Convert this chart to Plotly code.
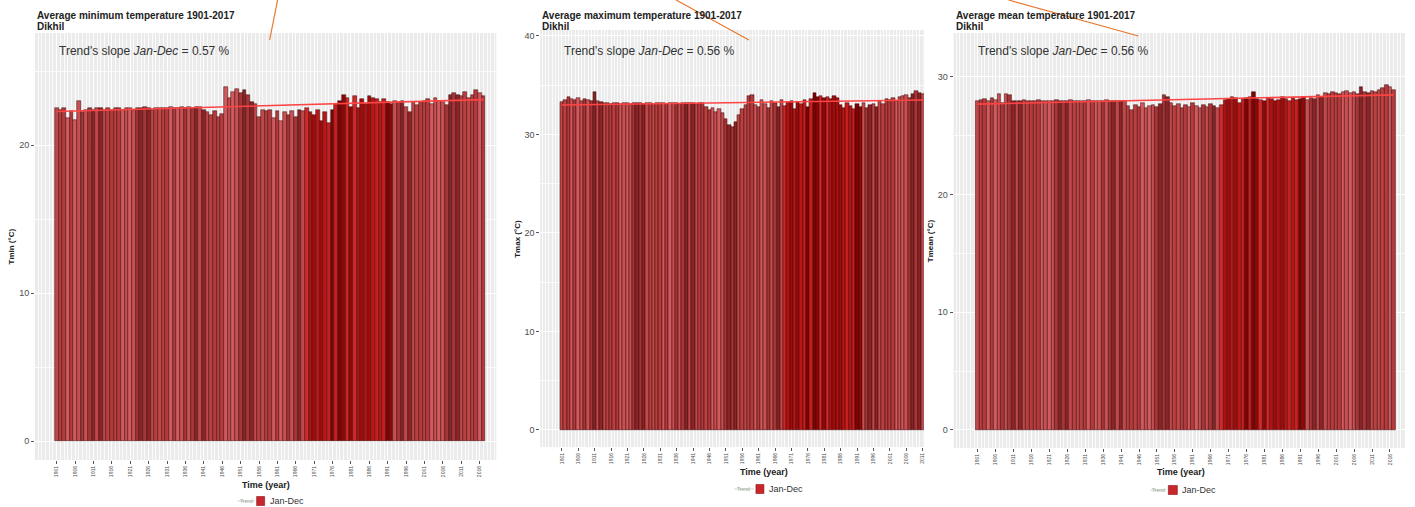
import plotly.graph_objects as go
import numpy as np

years = list(range(1901, 2018))
tick_years = list(range(1901, 2018, 5))

tmin = [
    22.5, 22.4, 22.5, 21.8, 22.3, 21.7, 23.0, 22.2, 22.4, 22.5,
    22.4, 22.5, 22.5, 22.4, 22.5, 22.4, 22.5, 22.5, 22.4, 22.5,
    22.5, 22.4, 22.5, 22.5, 22.6, 22.5, 22.4, 22.5, 22.5, 22.5,
    22.5, 22.6, 22.5, 22.5, 22.6, 22.5, 22.6, 22.5, 22.6, 22.6,
    22.4, 22.2, 22.0, 22.3, 21.9, 22.1, 23.9, 23.2, 23.6, 23.8,
    23.5, 23.7, 23.4, 22.9, 22.8, 21.9, 22.4, 22.3, 22.4, 21.8,
    22.3, 21.6, 22.2, 22.0, 22.3, 21.9, 22.4, 22.3, 22.5, 22.2,
    22.0, 22.4, 21.6, 22.2, 21.5, 22.4, 22.8, 23.0, 23.4, 23.2,
    22.6, 23.3, 22.5, 23.1, 22.8, 23.3, 23.2, 23.1, 22.9, 23.1,
    22.9, 22.8, 23.0, 22.9, 23.0, 22.6, 22.2, 22.9, 22.7, 22.9,
    23.0, 23.1, 22.8, 23.2, 23.0, 22.9, 22.7, 23.4, 23.5, 23.4,
    23.3, 23.6, 23.2, 23.4, 23.7, 23.5, 23.3]

tmax = [
    33.3, 33.5, 33.8, 33.6, 33.5, 33.7, 33.4, 33.6, 33.5, 33.4,
    34.3, 33.4, 33.3, 33.2, 33.2, 33.1, 33.2, 33.2, 33.1, 33.2,
    33.2, 33.1, 33.2, 33.2, 33.2, 33.1, 33.2, 33.2, 33.1, 33.2,
    33.2, 33.2, 33.1, 33.2, 33.2, 33.2, 33.1, 33.2, 33.2, 33.2,
    33.2, 33.1, 33.2, 33.2, 32.8, 32.5, 32.7, 32.3, 32.6, 32.2,
    31.6, 31.0, 30.8, 31.3, 32.0, 32.6, 33.0, 33.9, 34.0, 33.0,
    32.8, 33.5, 33.1, 32.7, 33.4, 33.2, 32.8, 33.5, 32.9, 33.3,
    33.4, 32.6, 33.3, 33.1, 33.5, 32.8, 33.6, 34.2, 33.8, 33.9,
    33.7, 33.8, 33.6, 33.9, 33.7, 33.0, 32.7, 33.2, 32.9, 32.6,
    33.1, 32.8, 33.2, 32.7, 33.0, 33.1, 32.8, 33.4, 33.1, 33.6,
    33.5, 33.7, 33.4, 33.8, 33.9, 34.0, 33.7, 34.1, 34.4, 34.2,
    34.1, 34.3, 34.0, 34.2, 34.4, 34.1, 34.3]

tmean = [
    27.9, 28.0, 28.1, 27.9, 28.2, 28.0, 28.5, 27.8, 28.5, 28.4,
    27.9, 27.9, 27.9, 28.0, 27.9, 27.9, 27.9, 28.0, 27.9, 27.9,
    27.9, 27.9, 28.0, 27.9, 27.9, 27.9, 28.0, 27.9, 27.9, 27.9,
    27.9, 28.0, 27.9, 27.9, 27.9, 27.9, 28.0, 27.9, 27.9, 27.9,
    27.9, 27.9, 27.5, 27.2, 27.6, 27.4, 27.8, 27.3, 27.5, 27.6,
    27.4, 27.7, 28.4, 28.3, 27.8, 27.5, 27.7, 27.3, 27.6, 27.4,
    27.8, 27.5, 27.3, 27.6, 27.4, 27.7, 27.5, 27.3, 27.6, 28.0,
    28.1, 28.3, 28.2, 27.8, 28.1, 28.2, 28.3, 28.7, 28.1, 28.0,
    27.9, 28.2, 28.1, 27.9, 28.0, 28.3, 28.1, 27.9, 28.2, 28.0,
    28.1, 28.3, 28.0, 28.2, 28.1, 28.4, 28.3, 28.6, 28.5, 28.7,
    28.6, 28.5, 28.7, 28.8, 28.6, 28.7, 28.5, 29.1, 28.7, 28.6,
    28.8, 28.7, 28.9, 29.0, 29.3, 29.1, 28.9]

titles = ["Average minimum temperature 1901-2017",
          "Average maximum temperature 1901-2017",
          "Average mean temperature 1901-2017"]
station = "Dikhil"
ylabels = ["Tmin (°C)", "Tmax (°C)", "Tmean (°C)"]
slopes = ["0.57", "0.56", "0.56"]
series_name = "Jan-Dec"

assert len(tmin) == len(tmax) == len(tmean) == len(years) == 117

W, H = 1415, 507
FONT = "Liberation Sans, Arial, sans-serif"

# ---- styling (bar shading) ----
light = ["#C0484B", "#A63538", "#D05A5D", "#B8403F", "#8A2427", "#C85052", "#B53A3D"]
dark = ["#B01212", "#8E0808", "#C81E1E", "#A00C0C", "#D42828", "#7E0404", "#BA1818"]
bar_colors = []
for i, y in enumerate(years):
    pal = dark if 1969 <= y <= 1992 else light
    bar_colors.append(pal[(i * 3 + i // 4) % 7])

# ---- panel geometry (pixels) ----
panels = [
    dict(x0=35, x1=497, y0=33, y1=460, xr=[1895.1, 2020.5], yr=[-1.28, 27.57], yt=[0, 10, 20],
         xt=266, yt_title=485, leg=(238, 255, 257, 265, 268, 501)),
    dict(x0=541, x1=925, y0=30, y1=447, xr=[1894.4, 2011.3], yr=[-1.73, 40.6], yt=[0, 10, 20, 30, 40],
         xt=765, yt_title=472, leg=(735, 755, 757, 765, 768, 489)),
    dict(x0=955, x1=1407, y0=33, y1=448, xr=[1894.3, 2020.2], yr=[-1.53, 33.7], yt=[0, 10, 20, 30],
         xt=1183, yt_title=472, leg=(1152, 1168, 1170, 1179, 1182, 490)),
]
series = [tmin, tmax, tmean]

fig = go.Figure()
annotations = []
shapes = []
layout_axes = {}

for k, (p, vals) in enumerate(zip(panels, series)):
    sfx = "" if k == 0 else str(k + 1)
    xa, ya = "x" + sfx, "y" + sfx
    fig.add_trace(go.Bar(
        x=years, y=vals, xaxis=xa, yaxis=ya, name=series_name,
        marker=dict(color=bar_colors, line=dict(color="#3A0808", width=0.5)),
        width=1.0, showlegend=False))
    coef = np.polyfit(years, vals, 1)
    trend = np.polyval(coef, years)
    fig.add_trace(go.Scatter(
        x=years, y=trend, xaxis=xa, yaxis=ya, mode="lines", name="Trend",
        line=dict(color="#FF4444", width=1.6), showlegend=False))

    dx = [p["x0"] / W, p["x1"] / W]
    dy = [1 - p["y1"] / H, 1 - p["y0"] / H]
    layout_axes["xaxis" + sfx] = dict(
        domain=dx, range=p["xr"], anchor=ya, tickvals=tick_years,
        ticktext=[str(t) for t in tick_years], tickangle=-90,
        tickfont=dict(size=5, color="#4D4D4D", family=FONT),
        ticks="outside", ticklen=3, tickcolor="#555", showgrid=True,
        gridcolor="white", gridwidth=1, zeroline=False, showline=False,
        minor=dict(dtick=1, tick0=1901, showgrid=True, gridcolor="rgba(255,255,255,0.8)", gridwidth=0.5),
        fixedrange=True)
    layout_axes["yaxis" + sfx] = dict(
        domain=dy, range=p["yr"], anchor=xa, tickvals=p["yt"],
        tickfont=dict(size=9, color="#4D4D4D", family=FONT),
        ticks="outside", ticklen=3, tickcolor="#555", showgrid=True,
        gridcolor="white", gridwidth=1.2, zeroline=False, showline=False,
        minor=dict(dtick=5, showgrid=True, gridcolor="rgba(255,255,255,0.8)", gridwidth=0.6),
        fixedrange=True)
    # background panel
    shapes.append(dict(type="rect", xref="paper", yref="paper", x0=dx[0], x1=dx[1],
                       y0=dy[0], y1=dy[1], fillcolor="#EBEBEB", line=dict(width=0), layer="below"))
    # titles
    annotations.append(dict(text="<b>" + titles[k] + "</b>", x=p["x0"] / W, y=1 - 15 / H,
                            xref="paper", yref="paper", xanchor="left", yanchor="middle",
                            showarrow=False, font=dict(size=10, color="#222", family=FONT)))
    annotations.append(dict(text="<b>" + station + "</b>", x=p["x0"] / W, y=1 - 26.5 / H,
                            xref="paper", yref="paper", xanchor="left", yanchor="middle",
                            showarrow=False, font=dict(size=10, color="#222", family=FONT)))
    # slope text
    annotations.append(dict(text="Trend's slope <i>" + series_name + "</i> = " + slopes[k] + " %",
                            x=(p["x0"] + 22) / W, y=1 - 51 / H, xref="paper", yref="paper",
                            xanchor="left", yanchor="middle", showarrow=False,
                            font=dict(size=12, color="#333", family=FONT)))
    # y-axis title
    annotations.append(dict(text="<b>" + ylabels[k] + "</b>", x=(p["x0"] - 23) / W,
                            y=1 - (p["y0"] + p["y1"]) / 2 / H, xref="paper", yref="paper",
                            xanchor="center", yanchor="middle", textangle=-90, showarrow=False,
                            font=dict(size=8, color="#222", family=FONT)))
    # x-axis title
    annotations.append(dict(text="<b>Time (year)</b>", x=p["xt"] / W, y=1 - p["yt_title"] / H,
                            xref="paper", yref="paper", xanchor="center", yanchor="middle",
                            showarrow=False, font=dict(size=9, color="#222", family=FONT)))
    # manual legend
    lx0, lx1, sx0, sx1, tx, ly = p["leg"]
    annotations.append(dict(text="Trend", x=(lx0 + lx1) / 2 / W, y=1 - ly / H, xref="paper", yref="paper",
                            xanchor="center", yanchor="middle", showarrow=False,
                            font=dict(size=5, color="#9AA59A", family=FONT)))
    shapes.append(dict(type="line", xref="paper", yref="paper", x0=lx0 / W, x1=lx1 / W,
                       y0=1 - ly / H, y1=1 - ly / H, line=dict(color="#C9D6C9", width=1)))
    shapes.append(dict(type="rect", xref="paper", yref="paper", x0=sx0 / W, x1=sx1 / W,
                       y0=1 - (ly + 4.5) / H, y1=1 - (ly - 4.5) / H, fillcolor="#C8262C",
                       line=dict(color="#8A1010", width=0.6)))
    annotations.append(dict(text=series_name, x=tx / W, y=1 - ly / H, xref="paper", yref="paper",
                            xanchor="left", yanchor="middle", showarrow=False,
                            font=dict(size=9, color="#333", family=FONT)))

# orange annotation lines at the top
orange = "#E8782E"
for (ax0, ay0, ax1, ay1) in [(278, 0, 270, 40), (677, 0, 750, 40), (1010, 0, 1140, 36)]:
    shapes.append(dict(type="line", xref="paper", yref="paper", x0=ax0 / W, y0=1 - ay0 / H,
                       x1=ax1 / W, y1=1 - ay1 / H, line=dict(color=orange, width=1.2)))

fig.update_layout(
    width=W, height=H, margin=dict(l=0, r=0, t=0, b=0),
    paper_bgcolor="white", plot_bgcolor="rgba(0,0,0,0)",
    bargap=0, barmode="overlay", showlegend=False,
    font=dict(family=FONT),
    shapes=shapes, annotations=annotations,
    **layout_axes)

fig.write_html("out.html")
